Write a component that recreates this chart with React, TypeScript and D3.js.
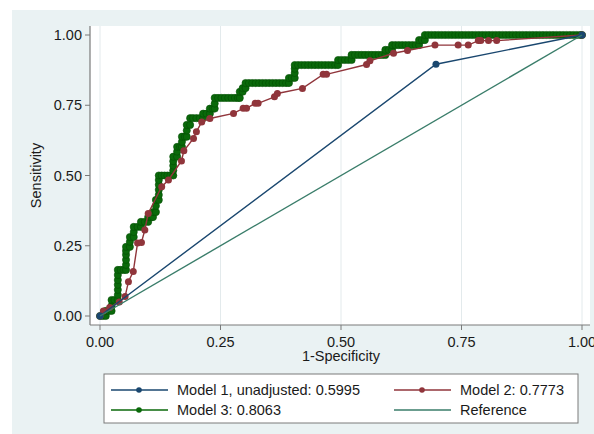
import React from "react";
import * as d3 from "d3";

const xTicks = [0, 0.25, 0.5, 0.75, 1];
const yTicks = [0, 0.25, 0.5, 0.75, 1];
const tickLabels = ["0.00", "0.25", "0.50", "0.75", "1.00"];

const model1Points: [number, number][] = [
  [0, 0],
  [0.697, 0.896],
  [1, 1],
];

const model2Points: [number, number][] = [
  [0, 0], [0.007, 0.018], [0.02, 0.03], [0.04, 0.05], [0.052, 0.069],
  [0.059, 0.122], [0.069, 0.158], [0.078, 0.26], [0.086, 0.262], [0.093, 0.306],
  [0.1, 0.365], [0.128, 0.46], [0.142, 0.484], [0.169, 0.552], [0.174, 0.588],
  [0.194, 0.632], [0.2, 0.656], [0.211, 0.69], [0.228, 0.703], [0.277, 0.721],
  [0.297, 0.739], [0.304, 0.739], [0.322, 0.757], [0.328, 0.757], [0.362, 0.78],
  [0.368, 0.792], [0.42, 0.81], [0.463, 0.86], [0.47, 0.86], [0.553, 0.895],
  [0.56, 0.908], [0.609, 0.935], [0.638, 0.945], [0.695, 0.964], [0.743, 0.964],
  [0.764, 0.964], [0.785, 0.98], [0.79, 0.98], [0.806, 0.98], [0.823, 0.98],
  [1, 1],
];

// rows: [sensitivity, ...1-specificity values at that sensitivity]
const model3Rows: number[][] = [
  [0, 0, 0.006, 0.012],
  [0.018, 0.012, 0.018, 0.024],
  [0.036, 0.024],
  [0.057, 0.024, 0.03, 0.037],
  [0.075, 0.037],
  [0.093, 0.037],
  [0.111, 0.037],
  [0.128, 0.037],
  [0.146, 0.037],
  [0.164, 0.037, 0.043, 0.049, 0.054],
  [0.182, 0.054],
  [0.2, 0.054],
  [0.218, 0.054],
  [0.232, 0.054],
  [0.246, 0.054, 0.062],
  [0.264, 0.062],
  [0.281, 0.062, 0.07],
  [0.299, 0.07],
  [0.317, 0.07, 0.078, 0.085],
  [0.335, 0.085, 0.093, 0.1],
  [0.352, 0.1, 0.106, 0.11],
  [0.37, 0.11, 0.116],
  [0.392, 0.116],
  [0.413, 0.116, 0.122],
  [0.431, 0.122],
  [0.449, 0.122],
  [0.467, 0.122],
  [0.484, 0.122],
  [0.5, 0.122, 0.128, 0.134, 0.14, 0.146, 0.152],
  [0.518, 0.152],
  [0.535, 0.152],
  [0.551, 0.152],
  [0.567, 0.152, 0.16],
  [0.585, 0.16],
  [0.602, 0.16, 0.166, 0.17],
  [0.62, 0.17],
  [0.638, 0.17, 0.176, 0.18],
  [0.66, 0.18],
  [0.68, 0.18, 0.187],
  [0.704, 0.187, 0.193, 0.2, 0.207, 0.214],
  [0.72, 0.214, 0.221, 0.228],
  [0.738, 0.228, 0.234, 0.238],
  [0.756, 0.238],
  [0.776, 0.238, 0.245, 0.252, 0.259, 0.266, 0.273, 0.28, 0.286, 0.29],
  [0.798, 0.29, 0.296],
  [0.811, 0.296, 0.302],
  [0.829, 0.302, 0.309, 0.316, 0.323, 0.33, 0.337, 0.344, 0.351, 0.358, 0.365, 0.372, 0.379, 0.386, 0.392],
  [0.847, 0.392, 0.398, 0.404],
  [0.865, 0.404],
  [0.88, 0.404],
  [0.893, 0.404, 0.411, 0.418, 0.425, 0.432, 0.439, 0.446, 0.453, 0.46, 0.467, 0.474, 0.481, 0.488, 0.494],
  [0.911, 0.494, 0.501, 0.508, 0.515, 0.522],
  [0.929, 0.522, 0.529, 0.536, 0.543, 0.55, 0.557, 0.564, 0.571, 0.578, 0.585, 0.592],
  [0.947, 0.592, 0.599, 0.606],
  [0.964, 0.606, 0.613, 0.62, 0.627, 0.634, 0.641, 0.648, 0.655, 0.662],
  [0.982, 0.662, 0.668, 0.674],
  [1, 0.674, 0.681, 0.688, 0.695, 0.702, 0.709, 0.716, 0.723, 0.73, 0.737, 0.744, 0.751, 0.758, 0.765, 0.772, 0.779, 0.786, 0.793, 0.8, 0.807, 0.814, 0.821, 0.828, 0.835, 0.842, 0.849, 0.856, 0.863, 0.87, 0.877, 0.884, 0.891, 0.898, 0.905, 0.912, 0.919, 0.926, 0.933, 0.94, 0.947, 0.954, 0.961, 0.968, 0.975, 0.982, 0.989, 0.996, 1],
];

const referencePoints: [number, number][] = [
  [0, 0],
  [1, 1],
];

const legendLabels = [
  "Model 1, unadjusted: 0.5995",
  "Model 2: 0.7773",
  "Model 3: 0.8063",
  "Reference",
];

const C_BLUE = "#1a476f";
const C_MAROON = "#90353b";
const C_GREEN = "#0a690a";
const C_GREEN_EDGE = "#034d03";
const C_REF = "#3a7d6a";
const FONT = "'Liberation Sans', Arial, sans-serif";

export default function App() {
  const W = 594;
  const H = 434;
  const x = d3.scaleLinear().domain([0, 1]).range([100, 582]);
  const y = d3.scaleLinear().domain([0, 1]).range([316, 35]);
  const line = d3
    .line<[number, number]>()
    .x((d) => x(d[0]))
    .y((d) => y(d[1]));

  const model3Points: [number, number][] = [];
  model3Rows.forEach((row) => {
    const sens = row[0];
    row.slice(1).forEach((fpr) => model3Points.push([fpr, sens]));
  });

  const fs = 14.5;

  const legendItems = [
    { label: legendLabels[0], color: C_BLUE, marker: true, lx: 111, ly: 390 },
    { label: legendLabels[1], color: C_MAROON, marker: true, lx: 394, ly: 390 },
    { label: legendLabels[2], color: C_GREEN, marker: true, lx: 111, ly: 410 },
    { label: legendLabels[3], color: C_REF, marker: false, lx: 394, ly: 410 },
  ];

  return (
    <svg
      width={W}
      height={H}
      style={{ position: "absolute", left: 0, top: 0, fontFamily: FONT }}
    >
      <rect x={0} y={0} width={W} height={H} fill="#ffffff" />
      <rect x={12} y={10} width={W - 12} height={H - 10} fill="#eaf2f3" />
      <rect x={90} y={26} width={500} height={299} fill="#ffffff" />

      {xTicks.map((t, i) => (
        <line
          key={"g" + i}
          x1={x(t)}
          x2={x(t)}
          y1={26}
          y2={325}
          stroke="#e3eaec"
          strokeWidth={1}
        />
      ))}

      {/* Model 3 */}
      <path d={line(model3Points) || ""} fill="none" stroke={C_GREEN} strokeWidth={1.5} />
      {model3Points.map((p, i) => (
        <circle
          key={"m3" + i}
          cx={x(p[0])}
          cy={y(p[1])}
          r={3.6}
          fill={C_GREEN}
          stroke={C_GREEN_EDGE}
          strokeWidth={0.6}
        />
      ))}

      {/* Model 2 */}
      <path d={line(model2Points) || ""} fill="none" stroke={C_MAROON} strokeWidth={1.4} />
      {model2Points.map((p, i) => (
        <circle key={"m2" + i} cx={x(p[0])} cy={y(p[1])} r={3.5} fill={C_MAROON} />
      ))}

      {/* Model 1 */}
      <path d={line(model1Points) || ""} fill="none" stroke={C_BLUE} strokeWidth={1.4} />
      {model1Points.map((p, i) => (
        <circle key={"m1" + i} cx={x(p[0])} cy={y(p[1])} r={3.5} fill={C_BLUE} />
      ))}

      {/* Reference */}
      <path d={line(referencePoints) || ""} fill="none" stroke={C_REF} strokeWidth={1.4} />

      {/* Axes */}
      <line x1={90} x2={90} y1={26} y2={325} stroke="#7a7a7a" strokeWidth={1.2} />
      <line x1={90} x2={590} y1={325} y2={325} stroke="#7a7a7a" strokeWidth={1.2} />
      {yTicks.map((t, i) => (
        <g key={"yt" + i}>
          <line x1={85} x2={90} y1={y(t)} y2={y(t)} stroke="#7a7a7a" strokeWidth={1} />
          <text
            x={82}
            y={y(t)}
            dy="0.36em"
            textAnchor="end"
            fontSize={fs}
            fill="#1a1a1a"
          >
            {tickLabels[i]}
          </text>
        </g>
      ))}
      {xTicks.map((t, i) => (
        <g key={"xt" + i}>
          <line x1={x(t)} x2={x(t)} y1={325} y2={330} stroke="#7a7a7a" strokeWidth={1} />
          <text x={x(t)} y={347} textAnchor="middle" fontSize={fs} fill="#1a1a1a">
            {tickLabels[i]}
          </text>
        </g>
      ))}
      <text x={341} y={361} textAnchor="middle" fontSize={fs} fill="#1a1a1a">
        1-Specificity
      </text>
      <text
        transform="translate(41,175.5) rotate(-90)"
        textAnchor="middle"
        fontSize={fs}
        fill="#1a1a1a"
      >
        Sensitivity
      </text>

      {/* Legend */}
      <rect x={104} y={374} width={474} height={49} fill="#ffffff" stroke="#7a7a7a" strokeWidth={1} />
      {legendItems.map((it, i) => (
        <g key={"lg" + i}>
          <line x1={it.lx} x2={it.lx + 57} y1={it.ly} y2={it.ly} stroke={it.color} strokeWidth={1.3} />
          {it.marker && <circle cx={it.lx + 28} cy={it.ly} r={2.8} fill={it.color} />}
          <text x={it.lx + 66} y={it.ly} dy="0.36em" fontSize={fs} fill="#1a1a1a">
            {it.label}
          </text>
        </g>
      ))}
    </svg>
  );
}
